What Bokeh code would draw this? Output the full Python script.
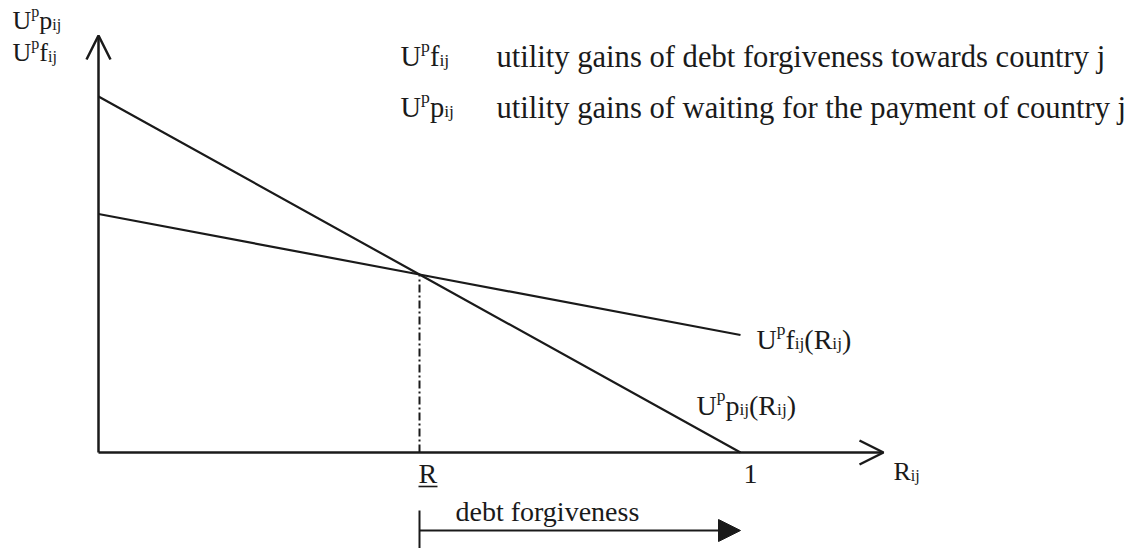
from bokeh.plotting import figure
from bokeh.models import Range1d, Label, Arrow, OpenHead, NormalHead
from bokeh.embed import file_html
from bokeh.resources import INLINE

# ---- data ----
R_values = [0.0, 0.5, 1.0]          # R_ij
p_values = [1.0, 0.5, 0.0]          # U^p p_ij(R_ij)
f_values = [0.67, 0.5, 0.33]        # U^p f_ij(R_ij)
R_bar = 0.5
tick_values = [0.5, 1.0]
tick_labels = ["R", "1"]

legend_rows = [
    ("f", "utility gains of debt forgiveness towards country j"),
    ("p", "utility gains of waiting for the payment of country j"),
]

# ---- layout constants (screen px) ----
W, H = 1130, 548
SX0, SX1 = 98.0, 740.0     # screen x of data 0 and 1
SY0, SY1 = 452.0, 96.0     # screen y (from top) of data 0 and 1
KX = SX1 - SX0
KY = SY0 - SY1
TEXT_DY = -9.0             # empirical baseline correction

def dx(px):   # screen x -> data
    return (px - SX0) / KX

def dy(py):   # screen y from top -> data
    return (SY0 - py) / KY

def sx(d):
    return SX0 + d * KX

def sy(d):
    return SY0 - d * KY

INK = "#1a1a1a"
FONT = "Liberation Serif"

p = figure(width=W, height=H, x_range=Range1d(dx(0), dx(W)), y_range=Range1d(dy(H), dy(0)),
           output_backend="svg", toolbar_location=None, x_axis_type=None, y_axis_type=None,
           min_border=0)
p.grid.visible = False
p.outline_line_color = None
p.background_fill_color = "white"
p.border_fill_color = "white"

# axes with arrows
p.add_layout(Arrow(end=OpenHead(size=24, line_width=2.5, line_color=INK),
                   x_start=0, y_start=0, x_end=dx(883), y_end=0,
                   line_width=2.5, line_color=INK))
p.add_layout(Arrow(end=OpenHead(size=24, line_width=2.5, line_color=INK),
                   x_start=0, y_start=0, x_end=0, y_end=dy(35),
                   line_width=2.5, line_color=INK))

# curves
p.line(R_values, p_values, line_width=2.2, line_color=INK)
p.line(R_values, f_values, line_width=2.2, line_color=INK)
p.line([R_bar, R_bar], [0, p_values[1]], line_width=2, line_color=INK, line_dash="8 3 2 3")

# debt forgiveness arrow
p.segment(x0=[R_bar], y0=[dy(510)], x1=[R_bar], y1=[dy(548)], line_width=2, line_color=INK)
p.add_layout(Arrow(end=NormalHead(size=22, fill_color=INK, line_color=INK),
                   x_start=R_bar, y_start=dy(530), x_end=tick_values[1], y_end=dy(530),
                   line_width=2, line_color=INK))

WID = {"U": 0.722, "p": 0.5, "f": 0.333, "i": 0.278, "j": 0.278, "R": 0.667,
       "(": 0.333, ")": 0.333, "1": 0.5}

def add_text(txt, x, baseline, size):
    p.add_layout(Label(x=x, y=H - (baseline + TEXT_DY), x_units="screen", y_units="screen",
                       text=txt, text_font=FONT, text_font_size=f"{size:.1f}px",
                       text_color=INK, text_baseline="alphabetic", text_align="left"))

def rich(pieces, x, baseline, size):
    for txt, kind in pieces:
        if kind == "n":
            fs, off = size, 0.0
        elif kind == "sup":
            fs, off = size * 0.62, -0.36 * size
        else:
            fs, off = size * 0.62, 0.14 * size
        add_text(txt, x, baseline + off, fs)
        x += sum(WID.get(c, 0.5) for c in txt) * fs
    return x

def upx(letter, arg=False):
    pcs = [("U", "n"), ("p", "sup"), (letter, "n"), ("ij", "sub")]
    if arg:
        pcs += [("(", "n"), ("R", "n"), ("ij", "sub"), (")", "n")]
    return pcs

# y-axis labels
rich(upx("p"), 12, 29, 26)
rich(upx("f"), 12, 61, 26)

# legend
for i, (letter, desc) in enumerate(legend_rows):
    base = 65 + i * 51
    rich(upx(letter), 400, base, 28.5)
    add_text(desc, 496, base, 30.6)

# curve labels
rich(upx("f", True), sx(R_values[-1]) + 16, sy(f_values[-1]) + 13, 28)
rich(upx("p", True), sx(R_values[-1]) - 44, sy(0) - 38, 28)

# tick labels
for v, lab in zip(tick_values, tick_labels):
    add_text(lab, sx(v) + (-1 if lab == "R" else 3), sy(0) + 30, 28)
# underline of R
p.segment(x0=[dx(sx(R_bar) - 1)], y0=[dy(486)], x1=[dx(sx(R_bar) + 18)], y1=[dy(486)],
          line_width=1.6, line_color=INK)

# x-axis label
rich([("R", "n"), ("ij", "sub")], 893, 480, 26)

# debt forgiveness text
add_text("debt forgiveness", 455, 520, 28)

open("out.html", "w").write(file_html(p, INLINE))
